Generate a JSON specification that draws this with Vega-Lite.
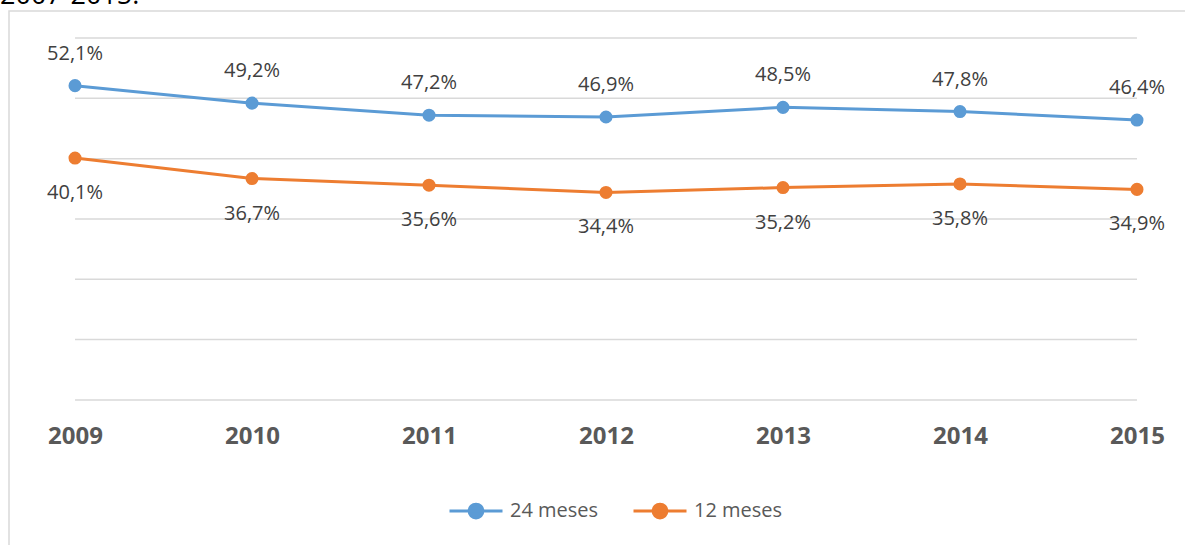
{
  "$schema": "https://vega.github.io/schema/vega-lite/v6.json",
  "autosize": "none",
  "padding": {"left": 9, "top": 11, "right": 0, "bottom": 0},
  "width": 1194,
  "height": 600,
  "background": "white",
  "title": {"text": "2007-2015.", "anchor": "start", "frame": "group", "baseline": "alphabetic", "offset": 0, "dx": -9, "dy": 20, "font": "Open Sans", "fontSize": 27, "fontWeight": "normal", "color": "#000000"},
  "config": {"view": {"stroke": "#d9d9d9", "strokeWidth": 1.5}, "font": "Open Sans"},
  "datasets": {
    "series": [
      {"year": "2009", "serie": "24 meses", "value": 52.1, "label": "52,1%"},
      {"year": "2010", "serie": "24 meses", "value": 49.2, "label": "49,2%"},
      {"year": "2011", "serie": "24 meses", "value": 47.2, "label": "47,2%"},
      {"year": "2012", "serie": "24 meses", "value": 46.9, "label": "46,9%"},
      {"year": "2013", "serie": "24 meses", "value": 48.5, "label": "48,5%"},
      {"year": "2014", "serie": "24 meses", "value": 47.8, "label": "47,8%"},
      {"year": "2015", "serie": "24 meses", "value": 46.4, "label": "46,4%"},
      {"year": "2009", "serie": "12 meses", "value": 40.1, "label": "40,1%"},
      {"year": "2010", "serie": "12 meses", "value": 36.7, "label": "36,7%"},
      {"year": "2011", "serie": "12 meses", "value": 35.6, "label": "35,6%"},
      {"year": "2012", "serie": "12 meses", "value": 34.4, "label": "34,4%"},
      {"year": "2013", "serie": "12 meses", "value": 35.2, "label": "35,2%"},
      {"year": "2014", "serie": "12 meses", "value": 35.8, "label": "35,8%"},
      {"year": "2015", "serie": "12 meses", "value": 34.9, "label": "34,9%"}
    ],
    "grid": [
      {"g": 0, "a": "2009", "b": "2015"},
      {"g": 10, "a": "2009", "b": "2015"},
      {"g": 20, "a": "2009", "b": "2015"},
      {"g": 30, "a": "2009", "b": "2015"},
      {"g": 40, "a": "2009", "b": "2015"},
      {"g": 50, "a": "2009", "b": "2015"},
      {"g": 60, "a": "2009", "b": "2015"}
    ]
  },
  "layer": [
    {
      "data": {"name": "grid"},
      "mark": {"type": "rule", "color": "#d9d9d9", "strokeWidth": 1.5},
      "encoding": {
        "x": {"field": "a", "type": "ordinal"},
        "x2": {"field": "b"},
        "y": {"field": "g", "type": "quantitative"}
      }
    },
    {
      "data": {"name": "series"},
      "mark": {"type": "line", "strokeWidth": 3},
      "encoding": {
        "x": {"field": "year", "type": "ordinal"},
        "y": {"field": "value", "type": "quantitative"},
        "color": {"field": "serie", "type": "nominal"}
      }
    },
    {
      "data": {"name": "series"},
      "mark": {"type": "point", "filled": true, "opacity": 1, "size": 170},
      "encoding": {
        "x": {"field": "year", "type": "ordinal"},
        "y": {"field": "value", "type": "quantitative"},
        "color": {"field": "serie", "type": "nominal"}
      }
    },
    {
      "data": {"name": "series"},
      "transform": [{"filter": "datum.serie === '24 meses'"}],
      "mark": {"type": "text", "dy": -32, "baseline": "middle", "fontSize": 20, "color": "#404040", "font": "Open Sans"},
      "encoding": {
        "x": {"field": "year", "type": "ordinal"},
        "y": {"field": "value", "type": "quantitative"},
        "text": {"field": "label"}
      }
    },
    {
      "data": {"name": "series"},
      "transform": [{"filter": "datum.serie === '12 meses'"}],
      "mark": {"type": "text", "dy": 35, "baseline": "middle", "fontSize": 20, "color": "#404040", "font": "Open Sans"},
      "encoding": {
        "x": {"field": "year", "type": "ordinal"},
        "y": {"field": "value", "type": "quantitative"},
        "text": {"field": "label"}
      }
    }
  ],
  "encoding": {
    "x": {
      "type": "ordinal",
      "scale": {"type": "point", "padding": 0.373},
      "axis": {"title": null, "orient": "bottom", "offset": -211, "domain": false, "ticks": false, "tickSize": 0, "grid": false, "labelPadding": 36, "labelBaseline": "middle", "labelFont": "Open Sans", "labelFontSize": 24, "labelFontWeight": "bold", "labelColor": "#595959", "labelAngle": 0}
    },
    "y": {
      "type": "quantitative",
      "scale": {"domain": [-35, 64.475], "nice": false, "zero": false},
      "axis": null
    },
    "color": {
      "type": "nominal",
      "scale": {"domain": ["24 meses", "12 meses"], "range": ["#5B9BD5", "#ED7D31"]},
      "legend": {
        "title": null, "orient": "none", "legendX": 439, "legendY": 472, "direction": "horizontal",
        "symbolType": "M-1,0L1,0M0.26,0A0.26,0.26,0,1,1,-0.26,0A0.26,0.26,0,1,1,0.26,0Z",
        "symbolSize": 2809, "symbolStrokeWidth": 3, "symbolOpacity": 1,
        "labelFont": "Open Sans", "labelFontSize": 20, "labelColor": "#595959", "labelOffset": 6, "columnPadding": 28,
        "encode": {"symbols": {"update": {"fill": {"signal": "scale('color', datum.value)"}, "stroke": {"signal": "scale('color', datum.value)"}, "opacity": {"value": 1}}}}
      }
    }
  }
}
